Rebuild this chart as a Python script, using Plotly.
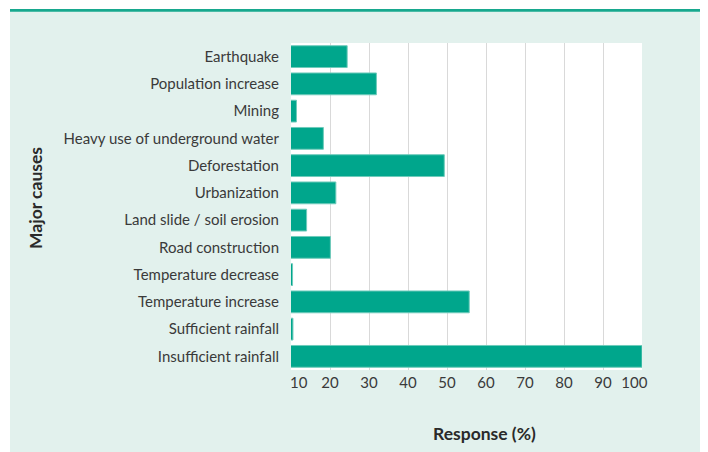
import plotly.graph_objects as go

categories = [
    "Earthquake",
    "Population increase",
    "Mining",
    "Heavy use of underground water",
    "Deforestation",
    "Urbanization",
    "Land slide / soil erosion",
    "Road construction",
    "Temperature decrease",
    "Temperature increase",
    "Sufficient rainfall",
    "Insufficient rainfall",
]
values = [24.4, 31.9, 11.4, 18.3, 49.3, 21.5, 14.0, 20.1, 10.4, 55.7, 10.5, 100.0]

tick_vals = [10, 20, 30, 40, 50, 60, 70, 80, 90, 100]
tick_text = ["\u00a0\u00a0\u00a0\u00a010", "20", "30", "40", "50", "60", "70", "80", "90", "100\u00a0\u00a0\u00a0\u00a0"]

# page offset of the plotly div (default body margin)
OFF = 8
PAGE_W, PAGE_H = 708, 452
W, H = PAGE_W - OFF, PAGE_H - OFF
# plot area in page pixels
PL, PR, PT, PB = 291, 642, 43, 370
ML, MR, MT, MB = PL - OFF, PAGE_W - PR, PT - OFF, PAGE_H - PB
PW, PH = PR - PL, PB - PT

def xp(px):
    return (px - PL) / PW

def yp(py):
    return (PB - py) / PH

MINT = "#e2f1ed"
TEAL = "#00a68c"
FONT = "Lato"
TXT = "#3a3a3a"

fig = go.Figure()
fig.add_trace(go.Bar(
    x=values,
    y=categories,
    orientation="h",
    marker=dict(color=TEAL, line=dict(color="#6fcbbb", width=1)),
    hoverinfo="x+y",
))

fig.update_layout(
    width=W, height=H,
    margin=dict(l=ML, r=MR, t=MT, b=MB, pad=0),
    paper_bgcolor=MINT,
    plot_bgcolor="white",
    bargap=0.2,
    showlegend=False,
    font=dict(family=FONT, size=15, color=TXT),
    xaxis=dict(
        range=[10, 100],
        tickvals=tick_vals,
        ticktext=tick_text,
        showgrid=True,
        gridcolor="#d9d9d9",
        gridwidth=1,
        zeroline=False,
        showline=False,
        ticks="",
        ticklabelstandoff=2,
        tickfont=dict(family=FONT, size=15, color=TXT),
        fixedrange=True,
    ),
    yaxis=dict(
        autorange="reversed",
        showgrid=False,
        zeroline=False,
        showline=False,
        ticks="",
        ticklabelstandoff=11,
        tickfont=dict(family=FONT, size=15, color=TXT),
        fixedrange=True,
    ),
    shapes=[
        dict(type="rect", xref="paper", yref="paper", x0=xp(OFF), x1=xp(10), y0=yp(PAGE_H), y1=yp(OFF),
             fillcolor="white", line=dict(width=0), layer="above"),
        dict(type="rect", xref="paper", yref="paper", x0=xp(OFF), x1=xp(PAGE_W), y0=yp(9), y1=yp(OFF),
             fillcolor="white", line=dict(width=0), layer="above"),
        dict(type="rect", xref="paper", yref="paper", x0=xp(10), x1=xp(PAGE_W), y0=yp(11.7), y1=yp(9),
             fillcolor="#17a88e", line=dict(width=0), layer="above"),
    ],
    annotations=[
        dict(text="<b>Response (%)</b>", xref="paper", yref="paper", x=xp(484), y=yp(433),
             xanchor="center", yanchor="middle", showarrow=False,
             font=dict(family=FONT, size=17.5, color="#2a2a2a")),
        dict(text="<b>Major causes</b>", xref="paper", yref="paper", x=xp(35), y=yp(198),
             xanchor="center", yanchor="middle", showarrow=False, textangle=-90,
             font=dict(family=FONT, size=17.5, color="#2a2a2a")),
    ],
)

fig.write_html("out.html")
